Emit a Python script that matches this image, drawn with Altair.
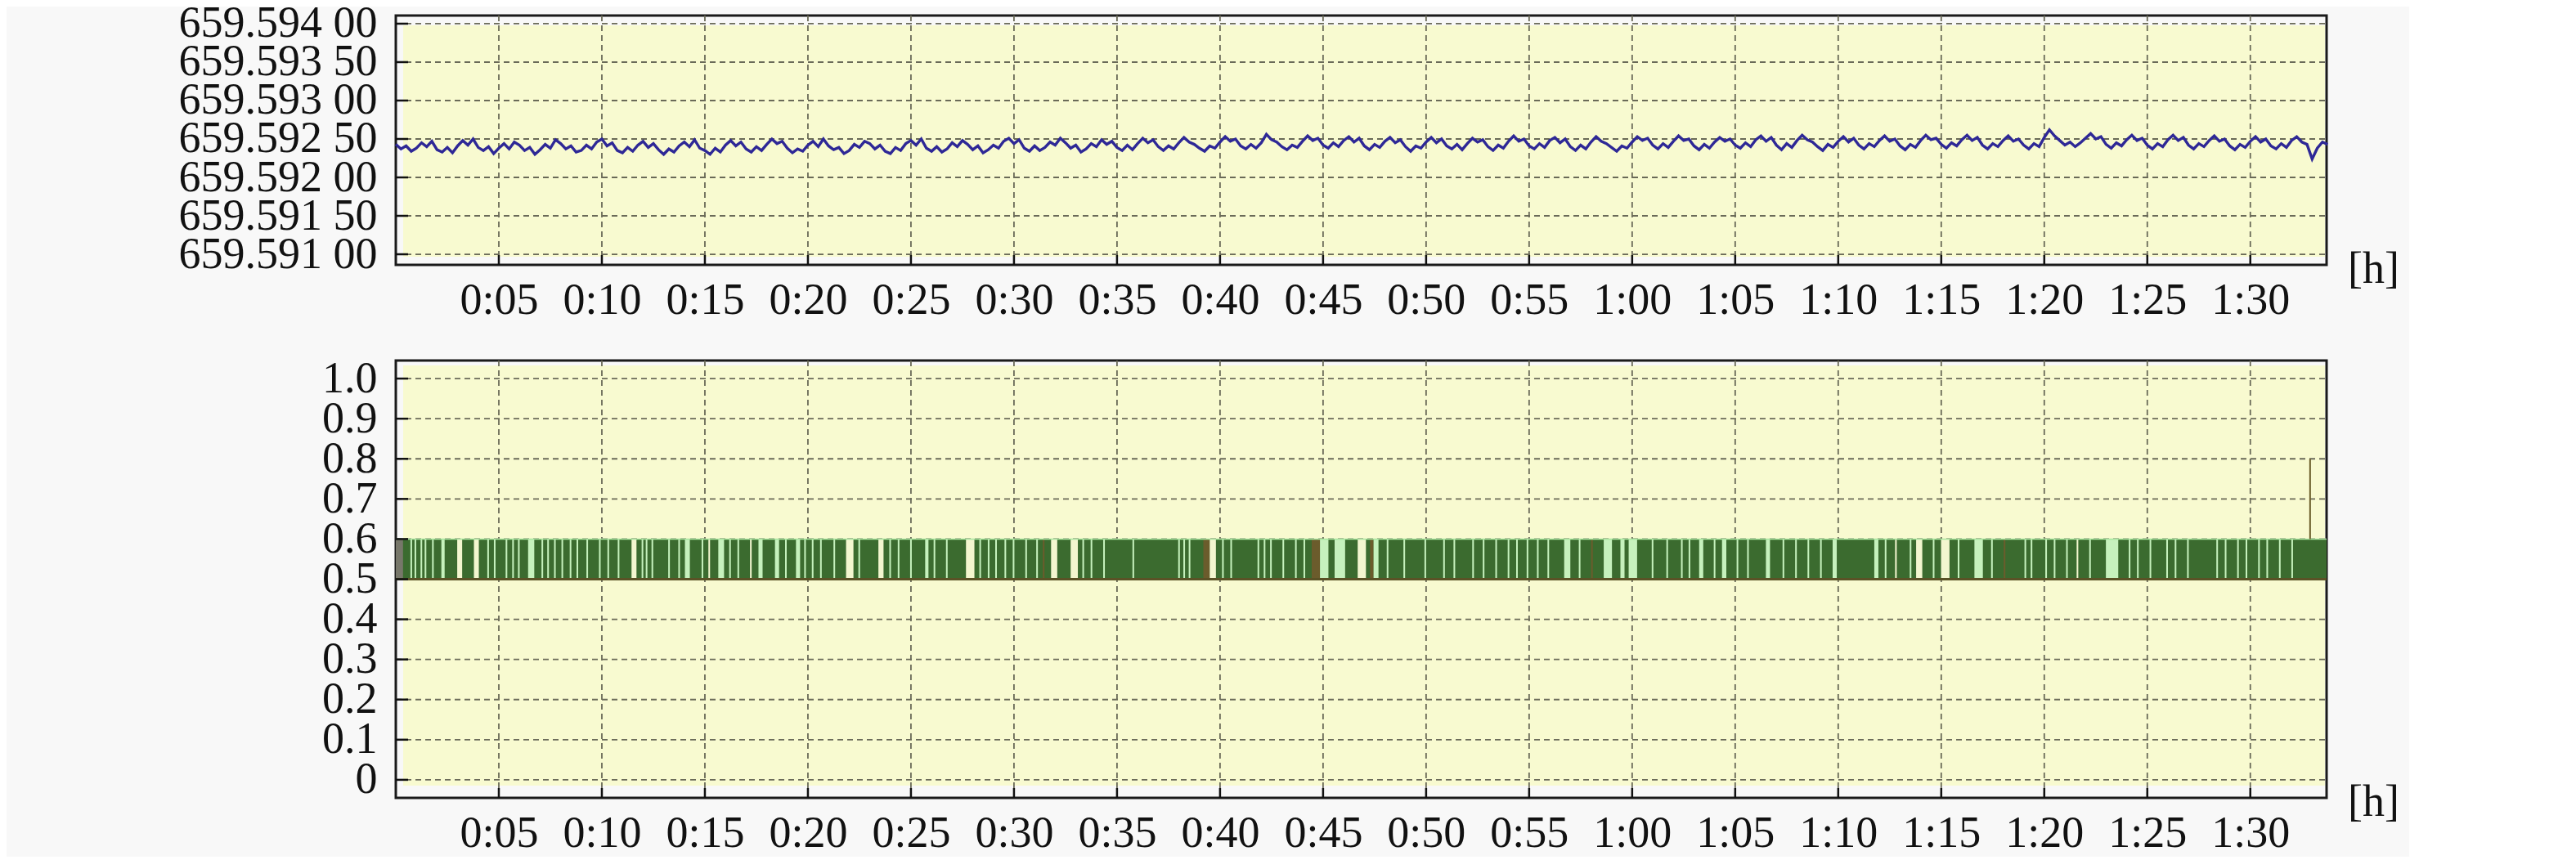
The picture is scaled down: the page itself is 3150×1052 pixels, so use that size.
import altair as alt
import pandas as pd

# ---------------- data ----------------
X_MAX = 93.7                      # minutes shown on the time axis
x_ticks = [5, 10, 15, 20, 25, 30, 35, 40, 45, 50, 55, 60, 65, 70, 75, 80, 85, 90]
top_ticks = [659.591, 659.5915, 659.592, 659.5925, 659.593, 659.5935, 659.594]
bot_ticks = [0, 0.1, 0.2, 0.3, 0.4, 0.5, 0.6, 0.7, 0.8, 0.9, 1.0]

FREQ_BASE = 659.592
sample_step_min = 0.25
# offset from 659.592 in millionths
freq_offset_e6 = [
    430, 370, 410, 340, 380, 450, 400, 470, 360, 330, 390, 320, 410, 480, 420, 500, 390, 350, 400, 310,
    380, 440, 370, 460, 420, 350, 390, 300, 360, 430, 380, 490, 440, 370, 410, 330, 350, 420, 370, 460,
    500, 410, 450, 350, 320, 390, 340, 420, 470, 390, 440, 360, 300, 370, 330, 410, 460, 400, 490, 380,
    350, 300, 380, 330, 420, 480, 410, 460, 370, 330, 400, 350, 430, 500, 440, 470, 380, 320, 370, 340,
    420, 470, 400, 500, 410, 360, 390, 310, 350, 430, 390, 470, 440, 370, 420, 340, 310, 390, 350, 440,
    480, 420, 500, 380, 340, 400, 330, 370, 450, 400, 480, 430, 360, 410, 320, 360, 420, 380, 470, 510,
    440, 490, 380, 340, 410, 350, 390, 460, 420, 510, 450, 380, 420, 330, 370, 440, 400, 490, 430, 470,
    390, 350, 420, 360, 440, 510, 450, 490, 400, 350, 410, 370, 450, 520, 460, 430, 380, 340, 410, 380,
    460, 530, 470, 500, 410, 370, 430, 380, 450, 560, 490, 460, 400, 360, 420, 390, 470, 540, 480, 510,
    420, 380, 450, 400, 480, 530, 460, 510, 410, 360, 430, 390, 470, 520, 450, 490, 400, 340, 410, 380,
    460, 520, 450, 500, 410, 370, 430, 360, 440, 510, 460, 490, 400, 350, 420, 380, 470, 540, 470, 500,
    410, 370, 440, 390, 480, 520, 450, 500, 400, 350, 420, 370, 460, 530, 470, 440, 390, 340, 410, 380,
    460, 530, 480, 510, 420, 370, 440, 390, 470, 540, 480, 500, 410, 360, 430, 380, 460, 520, 470, 500,
    420, 380, 450, 400, 490, 540, 470, 520, 420, 360, 440, 390, 480, 550, 490, 460, 400, 350, 430, 390,
    470, 530, 460, 510, 420, 370, 440, 400, 480, 540, 470, 500, 410, 360, 430, 390, 480, 550, 490, 510,
    430, 380, 450, 410, 490, 550, 480, 520, 420, 370, 440, 400, 480, 540, 470, 500, 420, 370, 440, 400,
    520, 620, 540, 480, 420, 460, 400, 450, 510, 570, 500, 530, 430, 380, 450, 410, 490, 550, 480, 510,
    420, 370, 440, 400, 490, 550, 480, 520, 420, 370, 440, 400, 480, 540, 470, 500, 410, 360, 430, 390,
    470, 530, 460, 500, 410, 370, 440, 390, 480, 530, 460, 430, 240, 380, 460, 430,
]

# lower panel: state band between 0.5 and 0.6, with gaps
band_low, band_high = 0.5, 0.6
spike_t, spike_top = 92.9, 0.8
gap_start = [
    0.00, 0.71, 0.91, 1.20, 1.40, 1.76, 2.21, 2.98, 3.79, 4.44, 4.76, 5.33, 5.65, 5.93, 6.42, 7.07, 7.35, 7.68,
    8.04, 8.44, 8.77, 9.25, 9.86, 10.27, 10.77, 11.44, 11.93, 12.13, 12.41, 13.22, 13.71, 14.03, 14.84, 15.17,
    15.65, 16.18, 16.58, 17.19, 17.60, 18.40, 18.89, 19.42, 19.82, 20.19, 20.59, 21.24, 21.85, 22.45, 23.42,
    23.95, 24.36, 24.96, 25.69, 26.10, 26.70, 27.67, 28.32, 28.73, 29.09, 29.54, 29.94, 30.55, 31.08,
    31.40, 31.80, 32.75, 33.32, 33.72, 34.33, 35.75, 37.97, 38.22, 38.48, 39.19, 39.50, 40.10, 40.50, 41.82,
    42.12, 42.43, 43.03, 43.64, 44.05, 44.45, 44.85, 45.56, 46.68, 47.28, 47.45, 48.09, 48.90, 49.92, 50.83,
    51.33, 52.24, 52.75, 53.36, 53.96, 54.37, 54.88, 55.38, 55.89, 56.70, 57.41, 58.01, 58.62, 59.43, 59.83,
    60.95, 61.66, 62.37,
    62.74, 63.25, 63.96, 64.36, 65.07, 65.58, 66.49, 67.30, 67.91, 68.51, 69.12, 69.73, 71.75, 72.26, 72.76,
    73.47, 73.78, 74.59, 74.99, 75.80, 76.61, 77.42, 78.03, 79.04, 79.34, 80.05, 80.46, 81.06, 81.57, 82.18,
    82.99, 84.10, 84.50, 85.11, 85.92, 86.33, 86.93, 88.35, 88.76, 89.36, 89.77, 90.38, 90.78, 91.39, 91.99,
    92.40, 93.41,
]
gap_end = [
    0.35, 0.79, 0.99, 1.28, 1.48, 1.84, 2.37, 3.22, 4.03, 4.52, 4.84, 5.41, 5.73, 6.01, 6.72, 7.15, 7.43, 7.76,
    8.12, 8.52, 8.85, 9.33, 9.94, 10.35, 10.85, 11.68, 12.01, 12.21, 12.49, 13.30, 13.79, 14.27, 14.92, 15.25,
    15.93, 16.26, 16.66, 17.27, 17.80, 18.60, 18.97, 19.62, 19.90, 20.27, 20.67, 21.32, 22.21, 22.53, 23.67,
    24.03, 24.44, 25.04, 25.85, 26.18, 26.78, 28.08, 28.40, 28.81, 29.17, 29.62, 30.02, 30.63, 31.16,
    31.48, 32.10, 33.10, 33.40, 33.80, 34.41, 35.83, 38.05, 38.30, 38.56, 39.50, 39.80, 40.18, 40.58, 41.90,
    42.20, 42.51, 43.11, 43.72, 44.13, 44.85, 45.26, 46.07, 47.08, 47.45, 47.69, 48.17, 48.98, 50.00, 50.91,
    51.41, 52.32, 52.83, 53.44, 54.04, 54.45, 54.96, 55.46, 55.97, 57.00, 57.49, 58.09, 59.02, 59.63, 60.24,
    61.03, 61.74, 62.45,
    62.82, 63.45, 64.04, 64.57, 65.15, 65.66, 66.69, 67.38, 67.99, 68.59, 69.20, 69.93, 71.95, 72.34, 72.84,
    73.55, 74.08, 74.67, 75.40, 75.88, 77.02, 77.50, 78.11, 79.12, 79.42, 80.13, 80.54, 81.14, 81.65, 82.26,
    83.59, 84.18, 84.58, 85.19, 86.00, 86.41, 87.01, 88.43, 88.84, 89.44, 89.85, 90.46, 90.86, 91.47, 92.07,
    92.48, 93.49,
]
gap_kind = (
    ["gray"] + ["lg"] * 6 + ["cr", "cr"] + ["lg"] * 16 + ["cr"] + ["lg"] * 7 + ["cr"] + ["lg"] * 3 + ["cr"]
    + ["lg"] * 8 + ["cr"] + ["lg"] + ["cr"] + ["lg"] * 6 + ["cr"] + ["lg"] * 7
    + ["br", "cr", "cr"] + ["lg"] * 7 + ["br", "cr"] + ["lg"] * 8 + ["br", "lg", "lg", "cr", "br", "lg"]
    + ["lg"] * 14 + ["lg", "br", "lg"] + ["lg"] * 3
    + ["lg"] * 16 + ["cr", "lg", "cr", "lg", "cr", "lg", "lg", "lg", "br"] + ["lg"] * 5
    + ["cr"] + ["lg"] * 16
)

# ---------------- styling ----------------
W, H1, H2 = 2361, 305, 535
FONT = "Liberation Serif"
FS = 54
YELLOW = "#f8fad0"
GRID = "#6a6a58"
BG = "#f8f8f8"

top_df = pd.DataFrame({
    "t": [i * sample_step_min for i in range(len(freq_offset_e6))],
    "f": [FREQ_BASE + v * 1e-6 for v in freq_offset_e6],
})
n = min(len(gap_start), len(gap_end), len(gap_kind))
gap_df = pd.DataFrame({"s": gap_start[:n], "e": gap_end[:n], "k": gap_kind[:n],
                       "lo": [band_low] * n, "hi": [band_high] * n})
band_df = pd.DataFrame({"s": [0.0], "e": [X_MAX], "lo": [band_low], "hi": [band_high]})
spike_df = pd.DataFrame({"t": [spike_t], "lo": [band_high], "hi": [spike_top]})
xt_df = pd.DataFrame({"v": x_ticks})

x_scale = alt.Scale(domain=[0, X_MAX], nice=False, zero=False)
top_scale = alt.Scale(domain=[659.590862, 659.594106], nice=False, zero=False)
bot_scale = alt.Scale(domain=[-0.045, 1.045], nice=False, zero=False)

x_axis = alt.Axis(
    values=x_ticks, title=None, grid=False, ticks=False, tickSize=0, domain=False,
    labelPadding=16, labelFont=FONT, labelFontSize=FS, labelColor="#111111",
    labelFlush=False, labelOverlap=False, labelLimit=400,
    labelExpr="floor(datum.value/60) + ':' + (datum.value % 60 < 10 ? '0' : '') + (datum.value % 60)",
)


def y_axis(vals, expr):
    return alt.Axis(
        values=vals, title=None, grid=False, ticks=False, tickSize=0, domain=False,
        labelPadding=23, labelFont=FONT, labelFontSize=FS, labelColor="#111111",
        labelFlush=False, labelOverlap=False, labelLimit=600, labelExpr=expr,
    )


def panel(h, yscale, yax, yticks, data_layers, inset_top, inset_bottom):
    yt_df = pd.DataFrame({"v": yticks})
    bg = alt.Chart(pd.DataFrame({"a": [0]})).mark_rect(color=YELLOW).encode(
        x=alt.value(9), x2=alt.value(W - 2), y=alt.value(inset_top), y2=alt.value(h - inset_bottom)
    )
    vgrid = alt.Chart(xt_df).mark_rule(color=GRID, strokeWidth=1.8, strokeDash=[7, 5]).encode(
        x=alt.X("v:Q", scale=x_scale, axis=x_axis), y=alt.value(0), y2=alt.value(h)
    )
    hgrid = alt.Chart(yt_df).mark_rule(color=GRID, strokeWidth=1.8, strokeDash=[7, 5]).encode(
        y=alt.Y("v:Q", scale=yscale, axis=yax), x=alt.value(0), x2=alt.value(W)
    )
    yt = alt.Chart(yt_df).mark_rule(color="#111111", strokeWidth=2.5).encode(
        y=alt.Y("v:Q", scale=yscale, axis=yax), x=alt.value(0), x2=alt.value(15)
    )
    xt = alt.Chart(xt_df).mark_rule(color="#111111", strokeWidth=2.5).encode(
        x=alt.X("v:Q", scale=x_scale, axis=x_axis), y=alt.value(h), y2=alt.value(h - 12)
    )
    unit = alt.Chart(pd.DataFrame({"u": ["[h]"]})).mark_text(
        font=FONT, fontSize=FS, align="left", baseline="middle", color="#111111"
    ).encode(text="u:N", x=alt.value(W + 26), y=alt.value(h + 6))
    return alt.layer(bg, vgrid, hgrid, *data_layers, yt, xt, unit).properties(width=W, height=h)


top_expr = "substring(format(datum.value, '.5f'), 0, 7) + ' ' + substring(format(datum.value, '.5f'), 7)"
top_yaxis = y_axis(top_ticks, top_expr)
line = alt.Chart(top_df).mark_line(color="#2e2896", strokeWidth=3.4).encode(
    x=alt.X("t:Q", scale=x_scale, axis=x_axis),
    y=alt.Y("f:Q", scale=top_scale, axis=top_yaxis),
)
top = panel(H1, top_scale, top_yaxis, top_ticks, [line], 12, 10)

bot_expr = "datum.value == 0 ? '0' : format(datum.value, '.1f')"
bot_yaxis = y_axis(bot_ticks, bot_expr)
band = alt.Chart(band_df).mark_rect(color="#3b6b2f").encode(
    x=alt.X("s:Q", scale=x_scale, axis=x_axis), x2="e:Q",
    y=alt.Y("lo:Q", scale=bot_scale, axis=bot_yaxis), y2="hi:Q",
)
gaps = alt.Chart(gap_df).mark_rect().encode(
    x=alt.X("s:Q", scale=x_scale, axis=x_axis), x2="e:Q",
    y=alt.Y("lo:Q", scale=bot_scale, axis=bot_yaxis), y2="hi:Q",
    color=alt.Color("k:N", scale=alt.Scale(domain=["lg", "cr", "br", "gray"],
                                          range=["#c6f1bd", "#f3f6cf", "#6b5c2c", "#77776a"]), legend=None),
)
base_rule = alt.Chart(band_df).mark_rule(color="#5a5226", strokeWidth=3).encode(
    x=alt.X("s:Q", scale=x_scale, axis=x_axis), x2="e:Q",
    y=alt.Y("lo:Q", scale=bot_scale, axis=bot_yaxis),
)
top_rule = alt.Chart(band_df).mark_rule(color="#a9e6a0", strokeWidth=1.5).encode(
    x=alt.X("s:Q", scale=x_scale, axis=x_axis), x2="e:Q",
    y=alt.Y("hi:Q", scale=bot_scale, axis=bot_yaxis),
)
spike = alt.Chart(spike_df).mark_rule(color="#6b5e2a", strokeWidth=2).encode(
    x=alt.X("t:Q", scale=x_scale, axis=x_axis),
    y=alt.Y("lo:Q", scale=bot_scale, axis=bot_yaxis), y2="hi:Q",
)
bottom = panel(H2, bot_scale, bot_yaxis, bot_ticks, [band, gaps, base_rule, top_rule, spike], 6, 15)

chart = alt.vconcat(top, bottom, spacing=38).configure_view(
    stroke="#1a1a1a", strokeWidth=3
).properties(
    background=BG,
    padding={"left": 208, "top": -8, "right": 10, "bottom": 0},
)

chart.save("out.html", embed_options={"renderer": "svg", "actions": False})
